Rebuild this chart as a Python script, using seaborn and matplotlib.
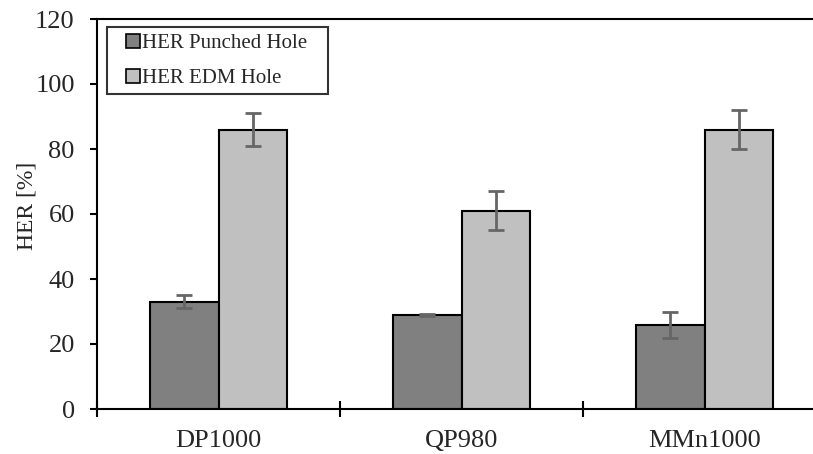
import pandas as pd
import seaborn as sns
import matplotlib.pyplot as plt
from matplotlib.lines import Line2D

# data
steels = ["DP1000", "QP980", "MMn1000"]
her_punched = [33, 29, 26]
her_punched_err = [2, 0.3, 4]
her_edm = [86, 61, 86]
her_edm_err = [5, 6, 6]
holes = ["HER Punched Hole", "HER EDM Hole"]
colors = ["#808080", "#c0c0c0"]

df = pd.DataFrame({
    "steel": steels * 2,
    "her": her_punched + her_edm,
    "hole": [holes[0]] * 3 + [holes[1]] * 3,
})

sns.set_style("white")
plt.rcParams["font.family"] = ["Liberation Serif", "DejaVu Serif"]

fig = plt.figure(figsize=(8.13, 4.54), dpi=100)
ax = fig.add_axes([97 / 813, 1 - 409 / 454, 729 / 813, 390 / 454])

sns.barplot(data=df, x="steel", y="her", hue="hole", palette=colors,
            edgecolor="black", linewidth=1.5, width=0.567, errorbar=None, ax=ax)

# error bars placed on the drawn bars
for cont, errs in zip(ax.containers, [her_punched_err, her_edm_err]):
    xs = [p.get_x() + p.get_width() / 2 for p in cont.patches]
    hs = [p.get_height() for p in cont.patches]
    ax.errorbar(xs, hs, yerr=errs, fmt="none", ecolor="#666666", elinewidth=2,
                capsize=6, capthick=2, zorder=5)

ax.set_ylim(0, 120)
ax.set_yticks(range(0, 121, 20))
ax.set_xlim(-0.5, 2.5)
ax.set_xticks([-0.5, 0.5, 1.5, 2.5])
ax.set_xticklabels([])
ax.set_xticks([0, 1, 2], minor=True)
ax.set_xticklabels(steels, minor=True)
ax.tick_params(axis="x", which="major", bottom=True, direction="inout", length=11,
               width=1.5, color="black")
ax.tick_params(axis="x", which="minor", bottom=True, length=0, labelsize=19, pad=15)
ax.tick_params(axis="y", left=True, direction="out", length=5, width=1.5, color="black",
               labelsize=19, pad=11)
ax.set_xlabel("")
ax.set_ylabel("HER [%]", fontsize=17)
ax.yaxis.set_label_coords(-0.082, 0.52)

for s in ["left", "bottom", "top"]:
    ax.spines[s].set_visible(True)
    ax.spines[s].set_color("black")
    ax.spines[s].set_linewidth(1.5)
ax.spines["right"].set_visible(False)

handles = [Line2D([], [], linestyle="none", marker="s", markersize=9.5,
                  markerfacecolor=c, markeredgecolor="black", markeredgewidth=1.2)
           for c in colors]
leg = ax.legend(handles, holes, loc="upper left", bbox_to_anchor=(0.0134, 0, 0.303, 0.979),
                mode="expand", borderaxespad=0, fontsize=15, handlelength=1.9,
                handletextpad=-0.52, frameon=True, fancybox=False, edgecolor="black",
                labelspacing=0.75, borderpad=0.3)
leg.get_frame().set_linewidth(1.5)

fig.savefig("out.png", dpi=100)
